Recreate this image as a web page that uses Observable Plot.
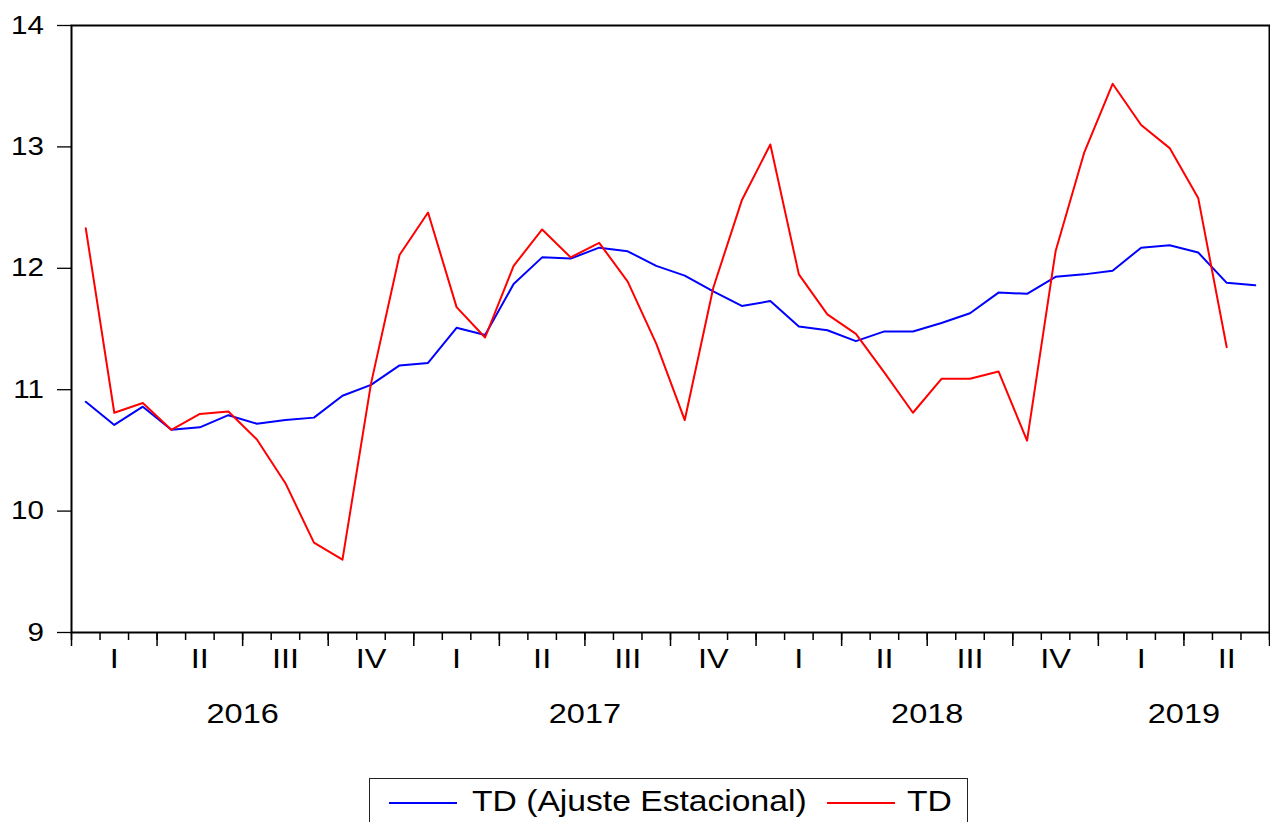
<!DOCTYPE html>
<html>
<head>
<meta charset="utf-8">
<script src="https://cdn.jsdelivr.net/npm/d3@7"></script>
<script src="https://cdn.jsdelivr.net/npm/@observablehq/plot@0.6"></script>
<style>
  html, body { margin: 0; padding: 0; background: #fff; overflow: hidden; width: 1270px; height: 822px; }
  #chart { position: absolute; left: 0; top: 0; }
  #legend { position: absolute; left: 369px; top: 778px; width: 599px; height: 56px; border: 1.5px solid #222; box-sizing: border-box;
            font-family: "Liberation Sans", Arial, sans-serif; font-size: 29px; color: #000; }
  #legend .sw { position: absolute; height: 2px; width: 68px; }
  #legend .lb { position: absolute; line-height: 29px; white-space: nowrap; transform: scaleX(1.16); transform-origin: left center; }
</style>
</head>
<body>
<div id="chart"></div>
<div id="legend"></div>
<script>
// Monthly periods (2016M01 – 2019M06)
const months = [
  "2016M01","2016M02","2016M03","2016M04","2016M05","2016M06","2016M07","2016M08","2016M09","2016M10","2016M11","2016M12",
  "2017M01","2017M02","2017M03","2017M04","2017M05","2017M06","2017M07","2017M08","2017M09","2017M10","2017M11","2017M12",
  "2018M01","2018M02","2018M03","2018M04","2018M05","2018M06","2018M07","2018M08","2018M09","2018M10","2018M11","2018M12",
  "2019M01","2019M02","2019M03","2019M04","2019M05","2019M06"
];
// TD (Ajuste Estacional)
const tdSA = [
  10.90,10.71,10.86,10.67,10.69,10.79,10.72,10.75,10.77,10.95,11.04,11.20,
  11.22,11.51,11.45,11.87,12.09,12.08,12.17,12.14,12.02,11.94,11.81,11.69,
  11.73,11.52,11.49,11.40,11.48,11.48,11.55,11.63,11.80,11.79,11.93,11.95,
  11.98,12.17,12.19,12.13,11.88,11.86
];
// TD
const td = [
  12.33,10.81,10.89,10.67,10.80,10.82,10.59,10.23,9.74,9.60,11.05,12.11,
  12.46,11.68,11.43,12.02,12.32,12.09,12.21,11.89,11.38,10.75,11.84,12.56,
  13.02,11.95,11.62,11.46,11.14,10.81,11.09,11.09,11.15,10.58,12.14,12.95,
  13.52,13.18,12.99,12.58,11.35
];
const quarterLabels = ["I","II","III","IV","I","II","III","IV","I","II","III","IV","I","II"];
const years = ["2016","2017","2018","2019"];
const yearMonthCounts = [12,12,12,6];
const yTicks = [9,10,11,12,13,14];
const seriesNames = ["TD (Ajuste Estacional)", "TD"];
const seriesColors = ["#0000ff", "#ff0000"];

const rows = months.map((m, i) => ({month: m, idx: i, sa: tdSA[i], td: td[i] ?? null}));
let acc = 0;
const yearRows = years.map((y, k) => { const r = {year: y, mid: acc + yearMonthCounts[k] / 2}; acc += yearMonthCounts[k]; return r; });
const quarterRows = quarterLabels.map((q, k) => ({label: q, mid: 3 * k + 1.5}));

const font = "'Liberation Sans', Arial, sans-serif";
const chart = Plot.plot({
  width: 1270,
  height: 770,
  marginLeft: 71,
  marginRight: 1,
  marginTop: 25,
  marginBottom: 138,
  style: {fontFamily: font, background: "#fff", color: "#000", overflow: "visible"},
  x: {domain: [0, months.length], axis: null},
  y: {domain: [9, 14], axis: null},
  marks: [
    Plot.axisY({ticks: yTicks, tickFormat: d => String(d), tickSize: 14, tickPadding: 13.5, fontSize: 25.5, label: null, strokeWidth: 1.3}),
    Plot.axisX({ticks: d3.range(0, months.length + 1), tickSize: 8, tickFormat: () => "", label: null, strokeWidth: 1.5}),
    Plot.axisX({ticks: d3.range(0, months.length + 1, 3), tickSize: 14, tickFormat: () => "", label: null, strokeWidth: 1.5}),
    Plot.text(quarterRows, {x: "mid", text: "label", frameAnchor: "bottom", dy: 35, fontSize: 28}),
    Plot.text(yearRows, {x: "mid", text: "year", frameAnchor: "bottom", dy: 90, fontSize: 28}),
    Plot.line(rows, {x: d => d.idx + 0.5, y: "sa", stroke: seriesColors[0], strokeWidth: 2}),
    Plot.line(rows, {x: d => d.idx + 0.5, y: "td", stroke: seriesColors[1], strokeWidth: 2}),
    Plot.frame({stroke: "#000", strokeWidth: 2})
  ]
});

// drop the empty placeholder labels of the tick-only axes
chart.querySelectorAll("text").forEach(t => { if (t.textContent.trim() === "") t.remove(); });
// widen glyphs horizontally to match the reference's stretched lettering
chart.querySelectorAll("text").forEach(t => {
  const tr = t.getAttribute("transform") || "";
  const x = t.getAttribute("x");
  let pos = "";
  if (x != null && x !== "" && !isNaN(+x)) {
    pos = ` translate(${+x},0)`;
    t.removeAttribute("x");
  }
  t.setAttribute("transform", `${tr}${pos} scale(1.16,1)`);
});
document.getElementById("chart").appendChild(chart);

// legend
const lg = document.getElementById("legend");
const legendLayout = [{sw: 19, lb: 102}, {sw: 457, lb: 537}];
seriesNames.forEach((name, k) => {
  const sw = document.createElement("div");
  sw.className = "sw";
  sw.style.left = legendLayout[k].sw + "px";
  sw.style.top = "23px";
  sw.style.background = seriesColors[k];
  lg.appendChild(sw);
  const lb = document.createElement("div");
  lb.className = "lb";
  lb.style.left = legendLayout[k].lb + "px";
  lb.style.top = "8px";
  lb.textContent = name;
  lg.appendChild(lb);
});
</script>
</body>
</html>
